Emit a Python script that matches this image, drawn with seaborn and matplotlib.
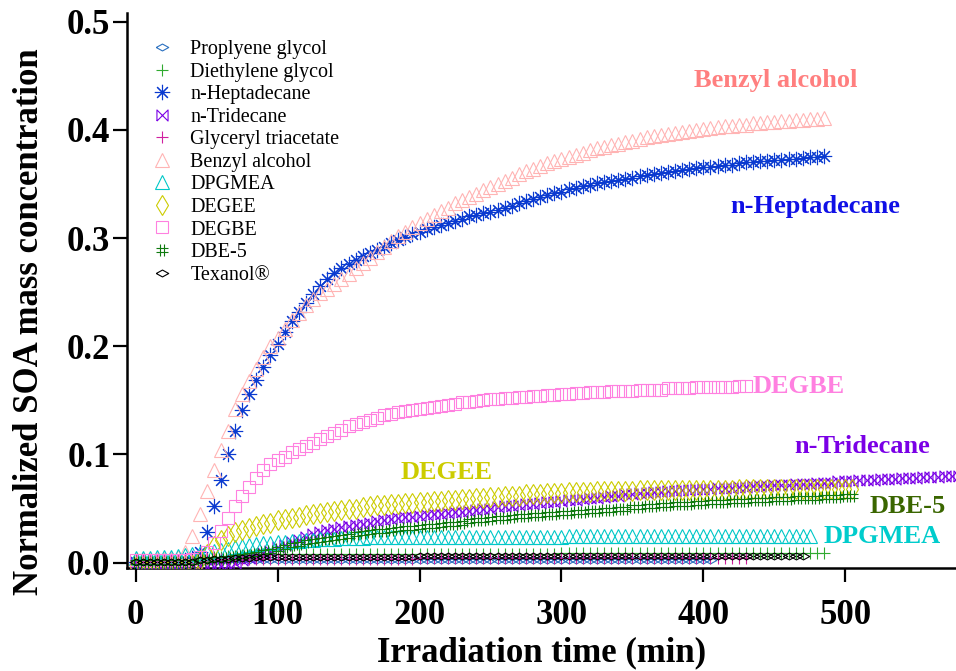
import numpy as np
import pandas as pd
import matplotlib
matplotlib.use('Agg')
import matplotlib.pyplot as plt
from matplotlib.path import Path
import seaborn as sns

# minutes between plotted points
step = 5

# normalized SOA mass concentration, one value every 5 min from t=0
propylene_glycol = [
    0.001, 0.001, 0.001, 0.001, 0.001, 0.001, 0.002, 0.002, 0.002, 0.002,
    0.002, 0.002, 0.002, 0.002, 0.002, 0.002, 0.002, 0.002, 0.002, 0.002,
    0.002, 0.002, 0.002, 0.002, 0.002, 0.002, 0.002, 0.002, 0.002, 0.002,
    0.002, 0.002, 0.002, 0.002, 0.002, 0.002, 0.002, 0.002, 0.002, 0.002,
    0.002, 0.002, 0.002, 0.002, 0.002, 0.002, 0.002, 0.002, 0.002, 0.002,
    0.002, 0.002, 0.002, 0.002, 0.002, 0.002, 0.002, 0.002, 0.002, 0.002,
    0.002, 0.002, 0.002, 0.002, 0.002, 0.002, 0.002, 0.002, 0.002, 0.002,
    0.002, 0.002, 0.002, 0.002, 0.002, 0.002, 0.002, 0.002, 0.002, 0.002,
    0.002, 0.002]
diethylene_glycol = [
    0.002, 0.002, 0.002, 0.002, 0.002, 0.002, 0.002, 0.003, 0.003, 0.004,
    0.004, 0.005, 0.005, 0.006, 0.006, 0.007, 0.007, 0.008, 0.008, 0.008,
    0.008, 0.008, 0.008, 0.008, 0.008, 0.008, 0.008, 0.008, 0.008, 0.008,
    0.008, 0.008, 0.008, 0.008, 0.008, 0.008, 0.008, 0.008, 0.008, 0.008,
    0.008, 0.008, 0.008, 0.008, 0.008, 0.008, 0.008, 0.008, 0.008, 0.008,
    0.008, 0.008, 0.008, 0.008, 0.008, 0.008, 0.008, 0.008, 0.008, 0.008,
    0.009, 0.009, 0.009, 0.009, 0.009, 0.009, 0.009, 0.009, 0.009, 0.009,
    0.009, 0.009, 0.009, 0.009, 0.009, 0.009, 0.009, 0.009, 0.009, 0.009,
    0.009, 0.009, 0.009, 0.009, 0.009, 0.009, 0.009, 0.009, 0.009, 0.009,
    0.009, 0.009, 0.009, 0.009, 0.009, 0.009, 0.009, 0.009]
heptadecane = [
    0.001, 0.001, 0.000, 0.001, 0.001, 0.001, 0.001, 0.002, 0.004, 0.010,
    0.028, 0.052, 0.076, 0.100, 0.122, 0.141, 0.156, 0.169, 0.181, 0.192,
    0.202, 0.213, 0.223, 0.232, 0.240, 0.248, 0.256, 0.262, 0.268, 0.272,
    0.276, 0.280, 0.283, 0.286, 0.289, 0.292, 0.295, 0.298, 0.301, 0.304,
    0.306, 0.308, 0.310, 0.312, 0.314, 0.316, 0.318, 0.320, 0.321, 0.323,
    0.324, 0.326, 0.328, 0.330, 0.332, 0.334, 0.336, 0.338, 0.340, 0.342,
    0.343, 0.345, 0.346, 0.348, 0.349, 0.351, 0.352, 0.353, 0.354, 0.355,
    0.356, 0.357, 0.358, 0.359, 0.360, 0.361, 0.362, 0.363, 0.364, 0.365,
    0.366, 0.366, 0.367, 0.368, 0.368, 0.369, 0.370, 0.370, 0.371, 0.371,
    0.372, 0.372, 0.373, 0.373, 0.374, 0.375, 0.375, 0.376]
tridecane = [
    0.000, -0.001, -0.001, -0.001, -0.001, -0.001, -0.001, -0.001, -0.002, -0.003,
    -0.004, -0.004, -0.003, -0.002, 0.000, 0.002, 0.004, 0.006, 0.009, 0.011,
    0.014, 0.016, 0.019, 0.021, 0.024, 0.026, 0.028, 0.030, 0.031, 0.033,
    0.034, 0.035, 0.036, 0.037, 0.038, 0.039, 0.040, 0.041, 0.042, 0.042,
    0.043, 0.044, 0.045, 0.045, 0.046, 0.047, 0.047, 0.048, 0.049, 0.050,
    0.050, 0.051, 0.052, 0.052, 0.053, 0.054, 0.054, 0.055, 0.056, 0.056,
    0.057, 0.058, 0.058, 0.059, 0.060, 0.060, 0.061, 0.062, 0.062, 0.063,
    0.063, 0.064, 0.064, 0.065, 0.065, 0.066, 0.066, 0.067, 0.067, 0.068,
    0.068, 0.068, 0.069, 0.069, 0.069, 0.070, 0.070, 0.071, 0.071, 0.071,
    0.072, 0.072, 0.072, 0.073, 0.073, 0.073, 0.074, 0.074, 0.074, 0.075,
    0.075, 0.075, 0.076, 0.076, 0.076, 0.077, 0.077, 0.077, 0.078, 0.078,
    0.078, 0.079, 0.079, 0.079, 0.080, 0.080, 0.080]
glyceryl_triacetate = [
    0.002, 0.002, 0.002, 0.002, 0.002, 0.002, 0.002, 0.002, 0.002, 0.002,
    0.003, 0.003, 0.003, 0.003, 0.003, 0.003, 0.003, 0.003, 0.003, 0.003,
    0.003, 0.003, 0.003, 0.003, 0.003, 0.003, 0.003, 0.003, 0.003, 0.003,
    0.003, 0.003, 0.003, 0.003, 0.003, 0.003, 0.003, 0.003, 0.003, 0.003,
    0.004, 0.004, 0.004, 0.004, 0.004, 0.004, 0.004, 0.004, 0.004, 0.004,
    0.004, 0.004, 0.004, 0.004, 0.004, 0.004, 0.004, 0.004, 0.004, 0.004,
    0.004, 0.004, 0.004, 0.004, 0.004, 0.004, 0.004, 0.004, 0.004, 0.004,
    0.004, 0.004, 0.004, 0.004, 0.004, 0.004, 0.004, 0.004, 0.004, 0.004,
    0.004, 0.004, 0.004, 0.004, 0.004, 0.004, 0.004]
benzyl_alcohol = [
    0.003, 0.003, 0.002, 0.003, 0.003, 0.003, 0.005, 0.010, 0.025, 0.045,
    0.066, 0.086, 0.104, 0.122, 0.142, 0.156, 0.168, 0.179, 0.190, 0.200,
    0.208, 0.216, 0.224, 0.231, 0.238, 0.244, 0.249, 0.253, 0.258, 0.262,
    0.267, 0.272, 0.277, 0.282, 0.287, 0.292, 0.297, 0.302, 0.306, 0.310,
    0.314, 0.318, 0.321, 0.325, 0.328, 0.332, 0.335, 0.338, 0.341, 0.344,
    0.347, 0.350, 0.353, 0.356, 0.359, 0.362, 0.364, 0.367, 0.369, 0.371,
    0.373, 0.375, 0.377, 0.379, 0.381, 0.383, 0.384, 0.386, 0.387, 0.389,
    0.390, 0.392, 0.393, 0.394, 0.395, 0.396, 0.397, 0.398, 0.399, 0.400,
    0.401, 0.402, 0.403, 0.404, 0.404, 0.405, 0.405, 0.406, 0.406, 0.407,
    0.407, 0.408, 0.408, 0.409, 0.409, 0.410, 0.410, 0.411]
dpgmea = [
    0.004, 0.004, 0.004, 0.005, 0.005, 0.005, 0.006, 0.007, 0.008, 0.009,
    0.010, 0.011, 0.012, 0.013, 0.014, 0.015, 0.016, 0.017, 0.018, 0.018,
    0.019, 0.019, 0.020, 0.020, 0.021, 0.021, 0.022, 0.022, 0.022, 0.023,
    0.023, 0.023, 0.023, 0.024, 0.024, 0.024, 0.024, 0.024, 0.024, 0.024,
    0.024, 0.024, 0.024, 0.024, 0.024, 0.024, 0.024, 0.024, 0.024, 0.024,
    0.024, 0.024, 0.024, 0.024, 0.024, 0.024, 0.024, 0.024, 0.024, 0.024,
    0.024, 0.025, 0.025, 0.025, 0.025, 0.025, 0.025, 0.025, 0.025, 0.025,
    0.025, 0.025, 0.025, 0.025, 0.025, 0.025, 0.025, 0.025, 0.025, 0.025,
    0.025, 0.025, 0.025, 0.025, 0.025, 0.025, 0.025, 0.025, 0.025, 0.025,
    0.025, 0.025, 0.025, 0.025, 0.025, 0.025]
degee = [
    -0.004, -0.004, -0.004, -0.004, -0.004, -0.004, -0.004, -0.003, -0.002, 0.002,
    0.008, 0.015, 0.021, 0.025, 0.028, 0.030, 0.032, 0.034, 0.036, 0.037,
    0.039, 0.040, 0.041, 0.042, 0.044, 0.045, 0.046, 0.047, 0.048, 0.049,
    0.050, 0.050, 0.051, 0.052, 0.053, 0.053, 0.054, 0.054, 0.055, 0.055,
    0.056, 0.056, 0.057, 0.057, 0.058, 0.058, 0.059, 0.059, 0.060, 0.060,
    0.061, 0.061, 0.062, 0.062, 0.062, 0.063, 0.063, 0.063, 0.064, 0.064,
    0.064, 0.065, 0.065, 0.065, 0.065, 0.066, 0.066, 0.066, 0.066, 0.066,
    0.066, 0.067, 0.067, 0.067, 0.067, 0.067, 0.067, 0.067, 0.067, 0.067,
    0.067, 0.067, 0.067, 0.067, 0.067, 0.068, 0.068, 0.068, 0.068, 0.068,
    0.068, 0.068, 0.068, 0.068, 0.068, 0.068, 0.068, 0.068, 0.068, 0.068,
    0.068, 0.068]
degbe = [
    0.002, 0.002, 0.002, 0.002, 0.002, 0.002, 0.002, 0.002, 0.003, 0.005,
    0.010, 0.018, 0.029, 0.041, 0.052, 0.062, 0.070, 0.078, 0.086, 0.091,
    0.095, 0.098, 0.102, 0.105, 0.108, 0.111, 0.114, 0.117, 0.120, 0.123,
    0.126, 0.128, 0.130, 0.132, 0.134, 0.136, 0.137, 0.139, 0.140, 0.141,
    0.142, 0.143, 0.144, 0.145, 0.146, 0.147, 0.148, 0.148, 0.149, 0.150,
    0.151, 0.151, 0.152, 0.152, 0.153, 0.153, 0.154, 0.154, 0.155, 0.155,
    0.156, 0.156, 0.157, 0.157, 0.158, 0.158, 0.158, 0.159, 0.159, 0.159,
    0.159, 0.160, 0.160, 0.160, 0.160, 0.161, 0.161, 0.161, 0.161, 0.162,
    0.162, 0.162, 0.162, 0.162, 0.162, 0.163, 0.163]
dbe5 = [
    0.001, 0.001, 0.001, 0.001, 0.001, 0.001, 0.001, 0.001, 0.001, 0.002,
    0.002, 0.003, 0.003, 0.004, 0.005, 0.006, 0.007, 0.008, 0.010, 0.011,
    0.013, 0.014, 0.016, 0.017, 0.019, 0.020, 0.021, 0.022, 0.023, 0.024,
    0.025, 0.026, 0.027, 0.028, 0.029, 0.029, 0.030, 0.031, 0.032, 0.032,
    0.033, 0.034, 0.034, 0.035, 0.036, 0.036, 0.037, 0.038, 0.039, 0.039,
    0.040, 0.041, 0.041, 0.042, 0.043, 0.043, 0.044, 0.044, 0.045, 0.045,
    0.046, 0.046, 0.047, 0.047, 0.048, 0.048, 0.049, 0.049, 0.050, 0.050,
    0.051, 0.051, 0.052, 0.052, 0.053, 0.053, 0.054, 0.054, 0.054, 0.055,
    0.055, 0.056, 0.056, 0.056, 0.057, 0.057, 0.057, 0.058, 0.058, 0.058,
    0.059, 0.059, 0.059, 0.060, 0.060, 0.060, 0.060, 0.061, 0.061, 0.061,
    0.062, 0.062]
texanol = [
    0.001, 0.001, 0.001, 0.001, 0.001, 0.001, 0.001, 0.001, 0.001, 0.002,
    0.002, 0.003, 0.003, 0.003, 0.004, 0.004, 0.004, 0.005, 0.005, 0.005,
    0.005, 0.005, 0.005, 0.005, 0.005, 0.005, 0.005, 0.005, 0.005, 0.005,
    0.005, 0.005, 0.005, 0.005, 0.005, 0.005, 0.005, 0.005, 0.005, 0.005,
    0.006, 0.006, 0.006, 0.006, 0.006, 0.006, 0.006, 0.006, 0.006, 0.006,
    0.006, 0.006, 0.006, 0.006, 0.006, 0.006, 0.006, 0.006, 0.006, 0.006,
    0.006, 0.006, 0.006, 0.006, 0.006, 0.006, 0.006, 0.006, 0.006, 0.006,
    0.006, 0.006, 0.006, 0.006, 0.006, 0.006, 0.006, 0.006, 0.006, 0.006,
    0.006, 0.006, 0.006, 0.006, 0.006, 0.006, 0.006, 0.006, 0.006, 0.006,
    0.006, 0.006, 0.006, 0.006, 0.006]

# custom open markers
wide_diamond = [(-1, 0), (0, 0.55), (1, 0), (0, -0.55), (-1, 0)]
bowtie = [(-1, -1), (1, 1), (1, -1), (-1, 1), (-1, -1)]
hash_mark = Path([(-0.35, -1), (-0.35, 1), (0.35, -1), (0.35, 1),
                  (-1, -0.35), (1, -0.35), (-1, 0.35), (1, 0.35)],
                 [Path.MOVETO, Path.LINETO] * 4)

series = [
    ('Proplyene glycol', propylene_glycol, '#2a70c0', wide_diamond, 9),
    ('Diethylene glycol', diethylene_glycol, '#30aa30', '+', 9),
    ('n-Heptadecane', heptadecane, '#0a3ad0', (8, 2, 0), 11),
    ('n-Tridecane', tridecane, '#7a00e6', bowtie, 8),
    ('Glyceryl triacetate', glyceryl_triacetate, '#d020a0', '+', 9),
    ('Benzyl alcohol', benzyl_alcohol, '#ffb4b4', '^', 10),
    ('DPGMEA', dpgmea, '#00c8c8', '^', 10),
    ('DEGEE', degee, '#cccc00', 'd', 10),
    ('DEGBE', degbe, '#ff80e0', 's', 9),
    ('DBE-5', dbe5, '#0f7a0f', hash_mark, 8),
    ('Texanol®', texanol, 'black', wide_diamond, 9),
]

# curve labels: text, time, value, colour
labels = [
    ('Benzyl alcohol', 451, 0.446, '#ff7f7f'),
    ('n-Heptadecane', 479, 0.329, '#1010e6'),
    ('DEGBE', 467, 0.163, '#ff80e0'),
    ('n-Tridecane', 512, 0.107, '#7a00e6'),
    ('DEGEE', 219, 0.083, '#cccc00'),
    ('DBE-5', 544, 0.052, '#3a6600'),
    ('DPGMEA', 526, 0.024, '#00cccc'),
]

sns.set_theme(style='ticks')
plt.rcParams['font.family'] = ['Liberation Serif', 'DejaVu Serif']
plt.rcParams['text.color'] = 'black'
plt.rcParams['axes.labelcolor'] = 'black'
plt.rcParams['xtick.color'] = 'black'
plt.rcParams['ytick.color'] = 'black'

fig = plt.figure(figsize=(9.56, 6.71), dpi=100)
ax = fig.add_axes([0.133, 0.1535, 0.867, 0.827])

for z, (name, vals, color, marker, ms) in enumerate(series):
    df = pd.DataFrame({'t': step * np.arange(len(vals)), 'c': vals})
    sns.lineplot(data=df, x='t', y='c', ax=ax, label=name, color=color,
                 marker=marker, markersize=ms, linestyle='none',
                 markerfacecolor='none', markeredgecolor=color,
                 markeredgewidth=0.8, errorbar=None, zorder=2 + z)

for text, tx, ty, color in labels:
    ax.text(tx, ty, text, color=color, fontsize=19, fontweight='bold',
            ha='center', va='center')

ax.set_xlim(-6, 578)
ax.set_ylim(-0.005, 0.508)
ax.set_xticks([0, 100, 200, 300, 400, 500])
ax.set_yticks([0.0, 0.1, 0.2, 0.3, 0.4, 0.5])
ax.yaxis.set_major_formatter('{x:.1f}')
ax.tick_params(direction='out', length=10, width=1.6, colors='black', labelsize=25)
ax.tick_params(axis='x', pad=12)
ax.tick_params(axis='y', pad=2)
for lbl in ax.get_xticklabels() + ax.get_yticklabels():
    lbl.set_fontweight('bold')

ax.spines[['top', 'right']].set_visible(False)
for side in ['left', 'bottom']:
    ax.spines[side].set_linewidth(1.8)
    ax.spines[side].set_color('black')

ax.set_xlabel('Irradiation time (min)', fontsize=25, fontweight='bold',
              va='top', color='black')
ax.set_ylabel('Normalized SOA mass concentration', fontsize=25,
              fontweight='bold', color='black')
ax.xaxis.set_label_coords(0.5, -0.124)
ax.yaxis.set_label_coords(-0.098, 0.443)

leg = ax.legend(loc='upper left', bbox_to_anchor=(0.024, 0.951), frameon=False,
                fontsize=14.5, borderpad=0, borderaxespad=0, labelspacing=0.17,
                handlelength=1.5, handletextpad=0.65)
for txt in leg.get_texts():
    txt.set_color('black')

fig.savefig('out.png', dpi=100)
